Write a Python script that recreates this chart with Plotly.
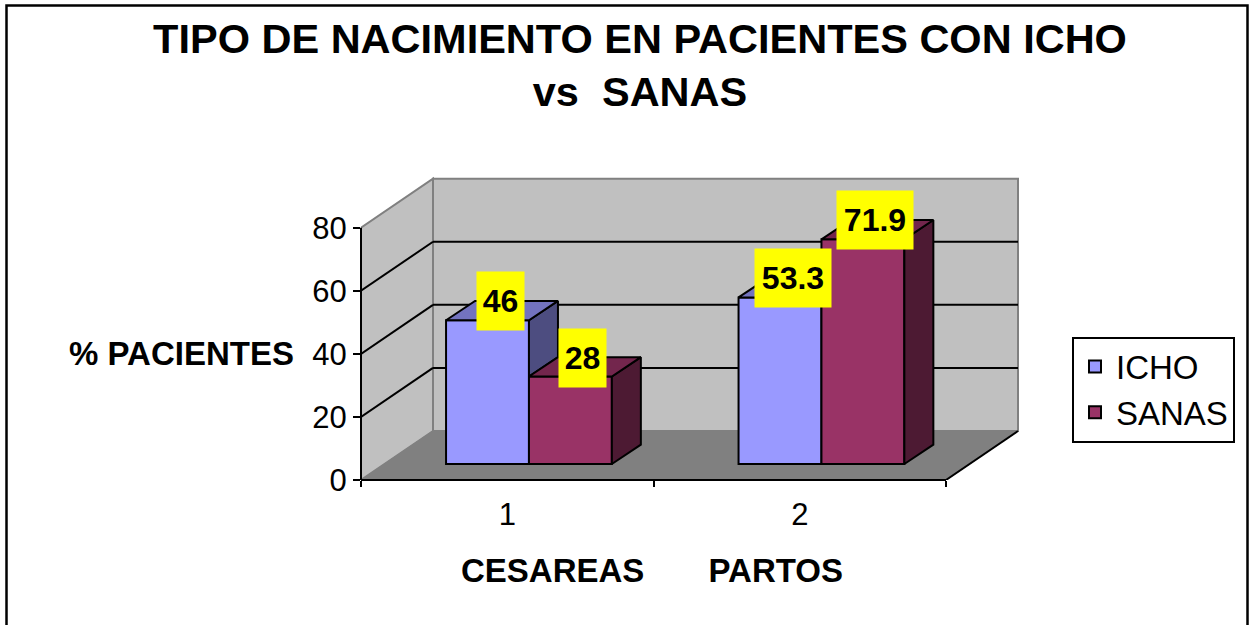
import plotly.graph_objects as go

# ---- data ----
CATEGORIES = [1, 2]
SERIES_NAMES = ["ICHO", "SANAS"]
ICHO = [46, 53.3]
SANAS = [28, 71.9]
Y_TICKS = [0, 20, 40, 60, 80]
CAT_EDGES = [0.5, 1.5, 2.5]
FRONT = ["#9999FF", "#993366"]
TOP = ["#7373BF", "#73264D"]
SIDE = ["#4D4D80", "#4D1A33"]
LABEL_W = {"46": 47, "28": 47, "53.3": 76, "71.9": 76}

FONT = "Liberation Sans"
W, H = 1252, 625
PL, PR, PT, PB = 361, 1022, 173, 480          # plot-area pixels (slightly beyond the walls)
UX = 292.5                                     # px per category
UY = 3.154                                     # px per % on the axis
DX, DY = 72 / UX, 49 / UY                      # floor depth, data units
BDX, BDY = 29 / UX, 19.3 / UY                  # bar depth
BW = 82.9 / UX                                 # bar width
SHIFT = 21.7 / UX                              # bars sit behind the front edge
BASE = 16 / UY
K = 3.125 / UY                                 # bars sit on a slightly shorter scale
X0, X1 = CAT_EDGES[0], CAT_EDGES[-1]
Y80 = Y_TICKS[-1]


def fx(px):
    return (px - PL) / (PR - PL)


def fy(py):
    return (PB - py) / (PB - PT)


fig = go.Figure()
series = [ICHO, SANAS]

# front faces
for s, vals in enumerate(series):
    fig.add_trace(go.Bar(
        x=[c + SHIFT + (s - 0.5) * BW for c in CATEGORIES],
        y=[v * K for v in vals], base=BASE, width=BW, name=SERIES_NAMES[s],
        marker=dict(color=FRONT[s], line=dict(color="black", width=2)),
    ))


def poly(xs, ys, color):
    fig.add_trace(go.Scatter(
        x=xs + xs[:1], y=ys + ys[:1], mode="lines", fill="toself", fillcolor=color,
        line=dict(color="black", width=2), showlegend=False, hoverinfo="skip",
    ))


# side and top faces, hidden parts removed by looking at the neighbour
annots = []
for c, cat in enumerate(CATEGORIES):
    for s, vals in enumerate(series):
        left = cat + SHIFT + (s - 1) * BW
        right = left + BW
        t = BASE + vals[c] * K
        nxt = BASE + series[s + 1][c] * K if s + 1 < len(series) else BASE
        if nxt < t:
            poly([right, right + BDX, right + BDX, right],
                 [t, t + BDY, nxt + BDY, nxt], SIDE[s])
            poly([left, left + BDX, right + BDX, right], [t, t + BDY, t + BDY, t], TOP[s])
        else:
            poly([left, left + BDX, right, right], [t, t + BDY, t + BDY, t], TOP[s])
        txt = str(vals[c])
        annots.append(dict(
            x=(left + right) / 2, y=t, xref="x", yref="y", text=f"<b>{txt}</b>",
            showarrow=False, xshift=12.5, yshift=19, bgcolor="#FFFF00",
            width=LABEL_W[txt], height=58, borderpad=0, align="center", valign="middle",
            font=dict(family=FONT, size=32, color="black"),
        ))

# ---- walls, floor, grid ----
shapes = []


def path(pts, **kw):
    d = "M" + "L".join(f"{x},{y}" for x, y in pts) + "Z"
    shapes.append(dict(type="path", path=d, xref="x", yref="y", layer="below", **kw))


def seg(x0, y0, x1, y1, color="black", width=2):
    shapes.append(dict(type="line", x0=x0, y0=y0, x1=x1, y1=y1, xref="x", yref="y",
                       layer="below", line=dict(color=color, width=width)))


GREY = "#C0C0C0"
EDGE = "#808080"
path([(X0 + DX, DY), (X1 + DX, DY), (X1 + DX, DY + Y80), (X0 + DX, DY + Y80)],
     fillcolor=GREY, line=dict(color=EDGE, width=2))
path([(X0, 0), (X0 + DX, DY), (X0 + DX, DY + Y80), (X0, Y80)],
     fillcolor=GREY, line=dict(color=EDGE, width=2))
path([(X0, 0), (X1, 0), (X1 + DX, DY), (X0 + DX, DY)],
     fillcolor=EDGE, line=dict(color=EDGE, width=1))
for v in Y_TICKS[1:-1]:
    seg(X0, v, X0 + DX, v + DY)
    seg(X0 + DX, v + DY, X1 + DX, v + DY)
seg(X1, 0, X1 + DX, DY)

# axis lines sit on the plot-area edge, so they use paper refs to escape the clip
for x_end, y_end in ((fx(PL + (X1 - X0) * UX), 0), (0, fy(PB - Y80 * UY))):
    shapes.append(dict(type="line", xref="paper", yref="paper", x0=0, y0=0, x1=x_end, y1=y_end,
                       layer="above", line=dict(color="black", width=2)))

# ---- page frame and free texts ----
shapes.append(dict(type="rect", xref="paper", yref="paper", layer="below",
                   x0=fx(6.5), x1=fx(1247.5), y0=fy(640), y1=fy(5.5),
                   line=dict(color="black", width=2.5)))

annots.append(dict(x=fx(181.5), y=fy(353), xref="paper", yref="paper", showarrow=False,
                   text="<b>%\u00a0PACIENTES</b>", font=dict(family=FONT, size=33, color="black"),
                   xanchor="center", yanchor="middle"))
annots.append(dict(x=fx(651.5), y=fy(570), xref="paper", yref="paper", showarrow=False,
                   text="<b>CESAREAS\u00a0\u00a0\u00a0\u00a0\u00a0\u00a0\u00a0PARTOS</b>",
                   font=dict(family=FONT, size=33, color="black"),
                   xanchor="center", yanchor="middle"))

fig.update_layout(
    width=W, height=H, autosize=False,
    margin=dict(l=PL, r=W - PR, t=PT, b=H - PB, pad=0),
    paper_bgcolor="white", plot_bgcolor="rgba(0,0,0,0)",
    barmode="overlay", shapes=shapes, annotations=annots,
    font=dict(family=FONT, color="black"),
    title=dict(text="<b>TIPO DE NACIMIENTO EN PACIENTES CON ICHO<br>vs\u00a0\u00a0SANAS</b>",
               x=640 / W, xanchor="center", xref="container",
               y=1 - 52.5 / H, yanchor="middle", yref="container",
               font=dict(family=FONT, size=41.5, color="black")),
    legend=dict(x=fx(1072), y=fy(336.5), xanchor="left", yanchor="top",
                bgcolor="white", bordercolor="black", borderwidth=2,
                font=dict(family=FONT, size=33, color="black"),
                itemwidth=32, entrywidth=123, entrywidthmode="pixels"),
    xaxis=dict(range=[X0, X0 + (PR - PL) / UX], showgrid=False, zeroline=False, showline=False,
               tickmode="array", tickvals=CATEGORIES, ticktext=[str(c) for c in CATEGORIES],
               ticks="", ticklabelstandoff=13,
               tickfont=dict(family=FONT, size=31, color="black"),
               minor=dict(tickmode="array", tickvals=CAT_EDGES, ticks="outside",
                          ticklen=6, tickwidth=2, tickcolor="black", showgrid=False)),
    yaxis=dict(range=[0, (PB - PT) / UY], showgrid=False, zeroline=False, showline=False,
               tickmode="array", tickvals=Y_TICKS, ticks="outside", ticklen=7, tickwidth=2,
               tickcolor="black", ticklabelstandoff=0,
               tickfont=dict(family=FONT, size=31, color="black")),
)

fig.write_html("out.html", post_script="document.body.style.margin='0';",
               config=dict(displayModeBar=False))
